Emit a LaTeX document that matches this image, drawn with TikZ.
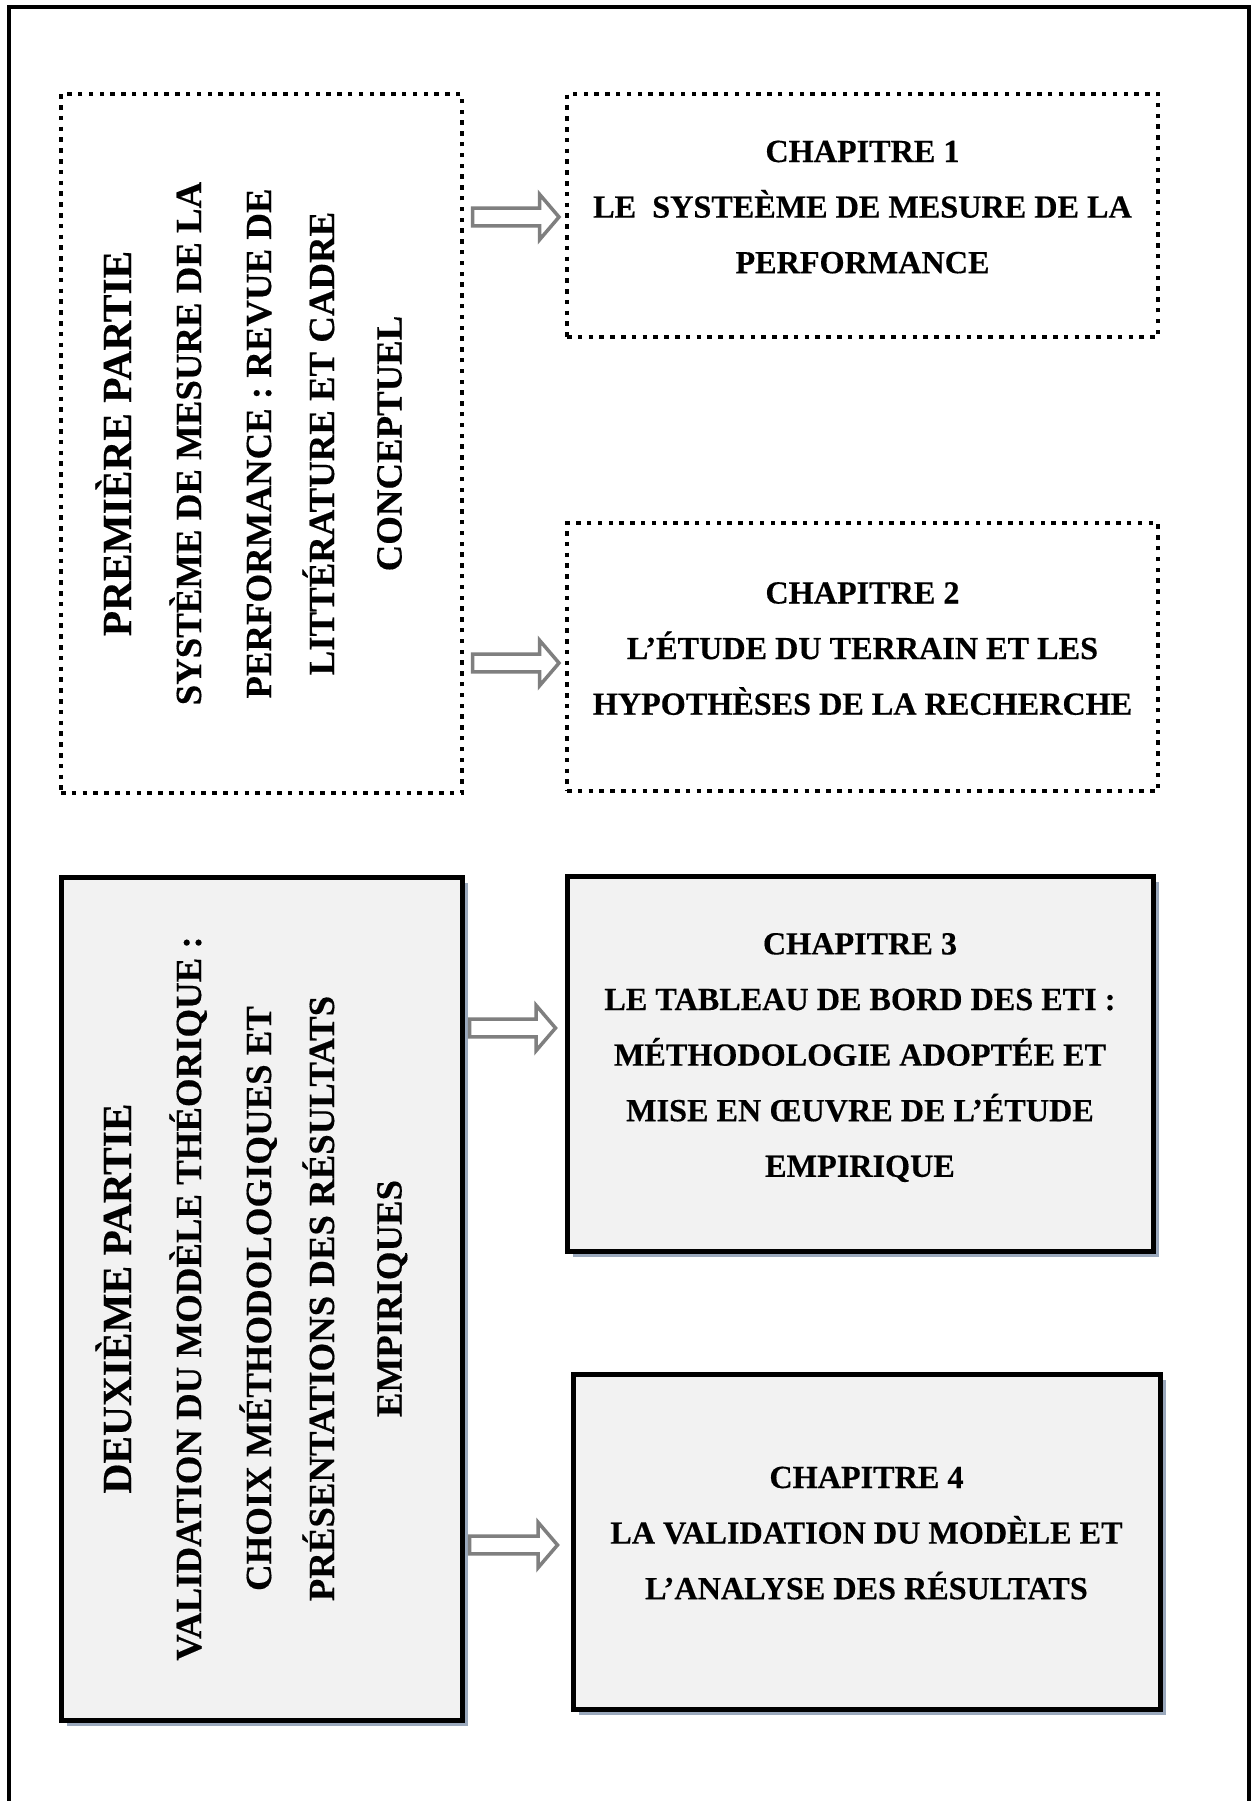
\documentclass[tikz,border=0pt]{standalone}
\usepackage{fontspec}
\setmainfont{Liberation Serif}[BoldFeatures={FakeBold=0.35}]
\usetikzlibrary{calc,backgrounds}
\definecolor{boxfill}{HTML}{F2F2F2}
\definecolor{arrgray}{HTML}{7F7F7F}
\definecolor{shadowcol}{HTML}{9AA8BC}
\tikzset{
  dotbox/.style={draw=black, line width=2.25pt, dash pattern=on 2.25pt off 3.15pt, inner sep=0pt, outer sep=0pt},
  solidbox/.style={draw=black, line width=2.5pt, fill=boxfill, inner sep=0pt, outer sep=0pt},
  boxshadow/.style={fill=shadowcol, draw=none},
  chaptext/.style={font=\fontsize{16.1}{19}\selectfont\bfseries, inner sep=0pt, anchor=base},
  parttitle/.style={font=\fontsize{20.7}{24}\selectfont\bfseries, inner sep=0pt, anchor=base, rotate=90},
  parttext/.style={font=\fontsize{18.4}{22}\selectfont\bfseries, inner sep=0pt, anchor=base, rotate=90},
  blockarrow/.style={draw=arrgray, line width=1.75pt, fill=white, line join=miter},
  frameline/.style={draw=black, line width=2.2pt},
}
\newcommand\blkarrow[2]{%
  \draw[blockarrow] ($(#1)+(0,-8.8)$) -- ($(#2)+(-19.5,-8.8)$) -- ($(#2)+(-19.5,-22.8)$)
    -- (#2) -- ($(#2)+(-19.5,22.8)$) -- ($(#2)+(-19.5,8.8)$) -- ($(#1)+(0,8.8)$) -- cycle;}
\begin{document}
\begin{tikzpicture}[x=0.5pt, y=-0.5pt]
\useasboundingbox (0,0) rectangle (1251,1801);

% outer frame
\draw[frameline] (9,1830) -- (9,7) -- (1249,7) -- (1249,1830);

% boxes
\node[dotbox, minimum width=200.5pt, minimum height=349.5pt] (p1) at (261.5,443.5) {};
\node[dotbox, minimum width=295.5pt, minimum height=121.5pt] (c1) at (862.5,215.5) {};
\node[dotbox, minimum width=295.5pt, minimum height=134pt] (c2) at (862.5,657) {};
\node[solidbox, minimum width=200.5pt, minimum height=421.5pt] (p2) at (261.5,1298.5) {};
\node[solidbox, minimum width=293pt, minimum height=187.5pt] (c3) at (860,1063.5) {};
\node[solidbox, minimum width=293.5pt, minimum height=167.5pt] (c4) at (866.5,1541.5) {};

\begin{scope}[on background layer]
  \fill[white] (0,0) rectangle (1251,1801);
  \foreach \b in {p2,c3,c4}
    \fill[boxshadow] ($(\b.south west)+(2.8pt,-2.8pt)$) rectangle ($(\b.north east)+(2.8pt,-2.8pt)$);
\end{scope}

% part texts
\node[parttitle] (p1t) at (131,443.5) {PREMIÈRE PARTIE};
\node[parttext] (p1l1) at (201,443.5) {SYSTÈME DE MESURE DE LA};
\node[parttext] (p1l2) at (271,443.5) {PERFORMANCE : REVUE DE};
\node[parttext] (p1l3) at (334,443.5) {LITTÉRATURE ET CADRE};
\node[parttext] (p1l4) at (401.5,443.5) {CONCEPTUEL};

\node[parttitle] (p2t) at (131,1298.5) {DEUXIÈME PARTIE};
\node[parttext] (p2l1) at (201,1298.5) {VALIDATION DU MODÈLE THÉORIQUE :};
\node[parttext] (p2l2) at (271,1298.5) {CHOIX MÉTHODOLOGIQUES ET};
\node[parttext] (p2l3) at (334,1298.5) {PRÉSENTATIONS DES RÉSULTATS};
\node[parttext] (p2l4) at (401.5,1298.5) {EMPIRIQUES};

% chapter texts
\foreach \txt [count=\i] in {CHAPITRE 1, LE~~SYSTEÈME DE MESURE DE LA, PERFORMANCE}
  \node[chaptext] (c1l\i) at (862.5,{162+(\i-1)*55.6}) {\txt};
\foreach \txt [count=\i] in {CHAPITRE 2, L’ÉTUDE DU TERRAIN ET LES, HYPOTHÈSES DE LA RECHERCHE}
  \node[chaptext] (c2l\i) at (862.5,{603.5+(\i-1)*55.6}) {\txt};
\foreach \txt [count=\i] in {CHAPITRE 3, LE TABLEAU DE BORD DES ETI :, MÉTHODOLOGIE ADOPTÉE ET, MISE EN ŒUVRE DE L’ÉTUDE, EMPIRIQUE}
  \node[chaptext] (c3l\i) at (860,{954.4+(\i-1)*55.6}) {\txt};
\foreach \txt [count=\i] in {CHAPITRE 4, LA VALIDATION DU MODÈLE ET, L’ANALYSE DES RÉSULTATS}
  \node[chaptext] (c4l\i) at (866.5,{1488+(\i-1)*55.6}) {\txt};

% arrows
\coordinate (a1s) at (472.5,217);  \coordinate (a1e) at (559,217);
\coordinate (a2s) at (472.5,663);  \coordinate (a2e) at (559,663);
\coordinate (a3s) at (469.5,1028); \coordinate (a3e) at (555.5,1028);
\coordinate (a4s) at (469.5,1545); \coordinate (a4e) at (557.5,1545);
\blkarrow{a1s}{a1e}
\blkarrow{a2s}{a2e}
\blkarrow{a3s}{a3e}
\blkarrow{a4s}{a4e}
\end{tikzpicture}
\end{document}
